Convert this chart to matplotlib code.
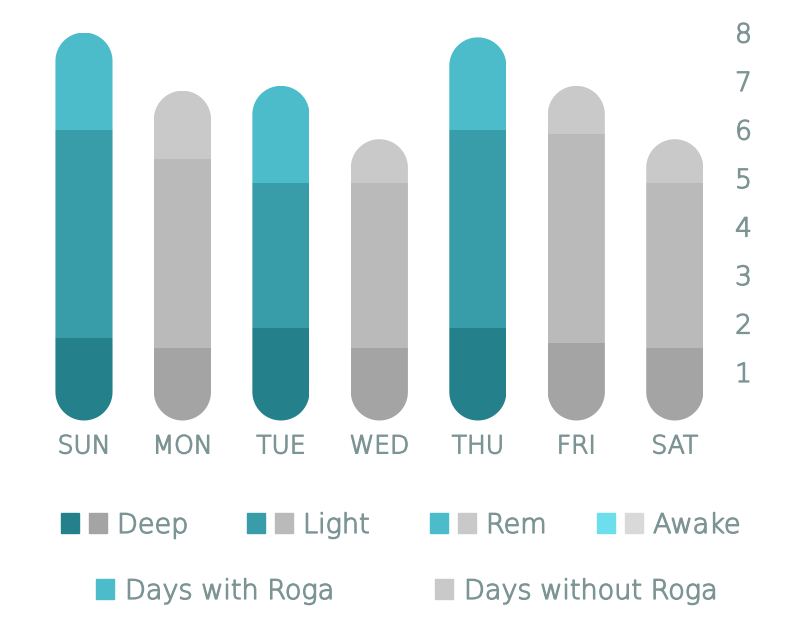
import matplotlib
matplotlib.use("Agg")
import numpy as np
import matplotlib.pyplot as plt
import matplotlib.patheffects as pe
from matplotlib.patches import PathPatch, Rectangle
from matplotlib.path import Path

days = ["SUN", "MON", "TUE", "WED", "THU", "FRI", "SAT"]
with_roga = [True, False, True, False, True, False, False]
deep = [1.7, 1.5, 1.9, 1.5, 1.9, 1.6, 1.5]
light = [4.3, 3.9, 3.0, 3.4, 4.1, 4.3, 3.4]
rem = [2.0, 1.4, 2.0, 0.9, 1.9, 1.0, 0.9]
yticks = [1, 2, 3, 4, 5, 6, 7, 8]

teal = {"Deep": "#24808a", "Light": "#389ca9", "Rem": "#4cbccb", "Awake": "#6ddeec"}
grey = {"Deep": "#a4a4a4", "Light": "#bababa", "Rem": "#c9c9c9", "Awake": "#d9d9d9"}
txt = "#7d9494"
font = "DejaVu Sans"
thick = [pe.withStroke(linewidth=0.9, foreground=txt)]

W, H = 794, 631
fig = plt.figure(figsize=(W / 100, H / 100), dpi=100)
ax = fig.add_axes([34.75 / W, (H - 420.5) / H, 689.25 / W, 388 / H])
ax.set_xlim(-0.5, 6.5)
ax.set_ylim(0, 8)

bw = 0.58
x = list(range(len(days)))
segs = [("Deep", deep), ("Light", light), ("Rem", rem)]

# rounded caps: clip each stack to a pill shape (circle ends in screen space)
px_x = ax.get_position().width * W / 7
px_y = ax.get_position().height * H / 8
rx = bw / 2
ry = rx * px_x / px_y


def pill_path(xc, top):
    t1 = np.linspace(0, np.pi, 40)
    t2 = np.linspace(np.pi, 2 * np.pi, 40)
    upper = np.column_stack([xc + rx * np.cos(t1), top - ry + ry * np.sin(t1)])
    lower = np.column_stack([xc + rx * np.cos(t2), ry + ry * np.sin(t2)])
    verts = np.vstack([upper, lower, upper[:1]])
    codes = [Path.MOVETO] + [Path.LINETO] * (len(verts) - 2) + [Path.CLOSEPOLY]
    return Path(verts, codes)


for i in x:
    pal = teal if with_roga[i] else grey
    total = deep[i] + light[i] + rem[i]
    pill = PathPatch(pill_path(i, total), fc="none", ec="none")
    ax.add_patch(pill)
    bottom = 0
    for name, vals in segs:
        b = ax.bar(i, vals[i], bw, bottom=bottom, color=pal[name], linewidth=0)
        for r in b:
            r.set_clip_path(pill)
        bottom += vals[i]

for s in ax.spines.values():
    s.set_visible(False)
ax.yaxis.tick_right()
ax.set_yticks(yticks)
ax.set_xticks(x)
ax.set_xticklabels(days)
ax.tick_params(length=0, colors=txt)
ax.tick_params(axis="y", pad=8, labelsize=19)
ax.tick_params(axis="x", pad=10, labelsize=18)
for lab in ax.get_xticklabels() + ax.get_yticklabels():
    lab.set_fontfamily(font)
    lab.set_fontweight("light")
    lab.set_path_effects(thick)

# legend row 1: paired swatches
row1 = [("Deep", 61), ("Light", 247), ("Rem", 430), ("Awake", 597)]
sq_w, sq_h = 18, 20
for name, x0 in row1:
    yc = H - 523
    for k, pal in enumerate([teal, grey]):
        fig.patches.append(Rectangle(((x0 + k * 28) / W, (yc - sq_h / 2) / H),
                                     sq_w / W, sq_h / H, color=pal[name],
                                     transform=fig.transFigure))
    fig.text((x0 + 56) / W, yc / H, name, ha="left", va="center_baseline",
             color=txt, fontsize=19.5, fontfamily=font, fontweight="light",
             path_effects=thick)

row2 = [("Days with Roga", teal["Rem"], 96), ("Days without Roga", grey["Rem"], 435)]
for name, c, x0 in row2:
    yc = H - 589
    fig.patches.append(Rectangle((x0 / W, (yc - sq_h / 2) / H), sq_w / W, sq_h / H,
                                 color=c, transform=fig.transFigure))
    fig.text((x0 + 29) / W, yc / H, name, ha="left", va="center_baseline",
             color=txt, fontsize=19.5, fontfamily=font, fontweight="light",
             path_effects=thick)

fig.savefig("out.png", dpi=100)
